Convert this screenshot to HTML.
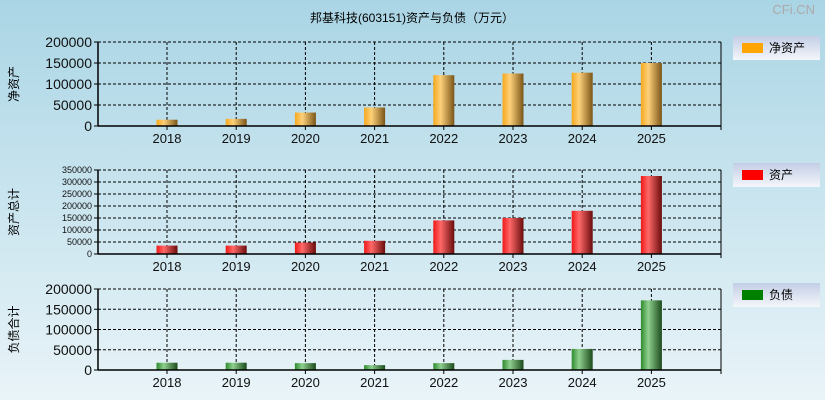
<!DOCTYPE html>
<html><head><meta charset="utf-8"><style>
body{margin:0;width:825px;height:400px;overflow:hidden;font-family:"Liberation Sans","Noto Sans CJK SC",sans-serif}
</style></head><body>
<svg id="c" width="825" height="400" xmlns="http://www.w3.org/2000/svg">
<defs>
<linearGradient id="bg" x1="0" y1="0" x2="0" y2="1"><stop offset="0" stop-color="#aad5e5"/><stop offset="1" stop-color="#e9f4f8"/></linearGradient>
<linearGradient id="lg" x1="0" y1="0" x2="0" y2="1"><stop offset="0" stop-color="#c3cee6"/><stop offset="1" stop-color="#f4f6fa"/></linearGradient>
<linearGradient id="g0" x1="0" x2="1"><stop offset="0" stop-color="#f6a81c"/><stop offset="0.35" stop-color="#fdd07a"/><stop offset="1" stop-color="#7a5518"/></linearGradient>
<linearGradient id="g1" x1="0" x2="1"><stop offset="0" stop-color="#f01818"/><stop offset="0.35" stop-color="#ff6868"/><stop offset="1" stop-color="#6a0c0c"/></linearGradient>
<linearGradient id="g2" x1="0" x2="1"><stop offset="0" stop-color="#2e8a2e"/><stop offset="0.35" stop-color="#8fd08f"/><stop offset="1" stop-color="#1c4a1c"/></linearGradient>
</defs>
<rect width="825" height="400" fill="url(#bg)"/>
<text x="412" y="22" font-size="12" text-anchor="middle">邦基科技(603151)资产与负债（万元）</text>
<text x="815" y="14" font-size="13" fill="#aaa" text-anchor="end">CFi.CN</text>
</svg>
<script>
const years=['2018','2019','2020','2021','2022','2023','2024','2025'];
const netAssets=[15000,17000,32000,44000,121000,125000,127000,150000];
const totalAssets=[35000,35000,48000,55000,140000,150000,180000,325000];
const liabilities=[18000,18000,17000,12000,17000,25000,52000,172000];
const ticks0=[0,50000,100000,150000,200000];
const ticks1=[0,50000,100000,150000,200000,250000,300000,350000];
const ticks2=[0,50000,100000,150000,200000];
const svg=document.getElementById('c');
const NS='http://www.w3.org/2000/svg';
function mk(t,a,p){const e=document.createElementNS(NS,t);for(const k in a)e.setAttribute(k,a[k]);(p||svg).appendChild(e);return e;}
const X0=98,X1=721;
function xs(i){return 167+i*69.2;}
const panels=[
{top:42,bot:126,data:netAssets,ticks:ticks0,max:200000,fill:'url(#g0)',lc:'#ffa500',ytitle:'净资产',leg:'净资产',fs:14,ly:36,name:'net-assets'},
{top:170,bot:254,data:totalAssets,ticks:ticks1,max:350000,fill:'url(#g1)',lc:'#ff0000',ytitle:'资产总计',leg:'资产',fs:9,ly:163,name:'total-assets'},
{top:289,bot:370,data:liabilities,ticks:ticks2,max:200000,fill:'url(#g2)',lc:'#008000',ytitle:'负债合计',leg:'负债',fs:14,ly:283,name:'liabilities'}];
panels.forEach(p=>{
 const g=mk('g',{});
 
 
 const ys=v=>p.bot-(v/p.max)*(p.bot-p.top);
 p.ticks.forEach(t=>{const y=ys(t);
  if(t>0){const l=mk('line',{x1:X0,x2:X1,y1:y,y2:y,stroke:'#000','stroke-dasharray':'3,2','stroke-width':1},g);}
  mk('line',{x1:X0-4,x2:X0,y1:y,y2:y,stroke:'#000'},g);
  const tx=mk('text',{x:X0-6,y:y+p.fs*0.36,'font-size':p.fs,'text-anchor':'end',fill:'#111'},g);tx.textContent=t;
  });
 years.forEach((yr,i)=>{const x=xs(i);
  const l=mk('line',{x1:x,x2:x,y1:p.top,y2:p.bot,stroke:'#000','stroke-dasharray':'3,2'},g);
  mk('line',{x1:x,x2:x,y1:p.bot,y2:p.bot+4,stroke:'#000'},g);
  const tx=mk('text',{x:x,y:p.bot+17,'font-size':13,'text-anchor':'middle',fill:'#111'},g);tx.textContent=yr;
  
  const v=p.data[i];const b=mk('rect',{x:x-10.5,y:ys(v),width:21,height:p.bot-ys(v),fill:p.fill},g);
  });
 mk('line',{x1:X1,x2:X1,y1:p.top,y2:p.bot+4,stroke:'#000'},g);
 mk('line',{x1:X0,x2:X0,y1:p.top,y2:p.bot,stroke:'#000','stroke-width':1.5},g);
 mk('line',{x1:X0,x2:X1,y1:p.bot,y2:p.bot,stroke:'#000','stroke-width':1.5},g);
 const cy=(p.top+p.bot)/2;
 const yt=mk('text',{x:0,y:0,'font-size':12,'text-anchor':'middle',transform:`translate(18,${cy}) rotate(-90)`},g);yt.textContent=p.ytitle;
 
 const lg=mk('g',{},g);
 mk('rect',{x:733,y:p.ly,width:87,height:24,fill:'url(#lg)'},lg);
 mk('rect',{x:742,y:p.ly+7,width:21,height:10,fill:p.lc},lg);
 const lt=mk('text',{x:769,y:p.ly+16,'font-size':12},lg);lt.textContent=p.leg;
});
</script>
</body></html>
